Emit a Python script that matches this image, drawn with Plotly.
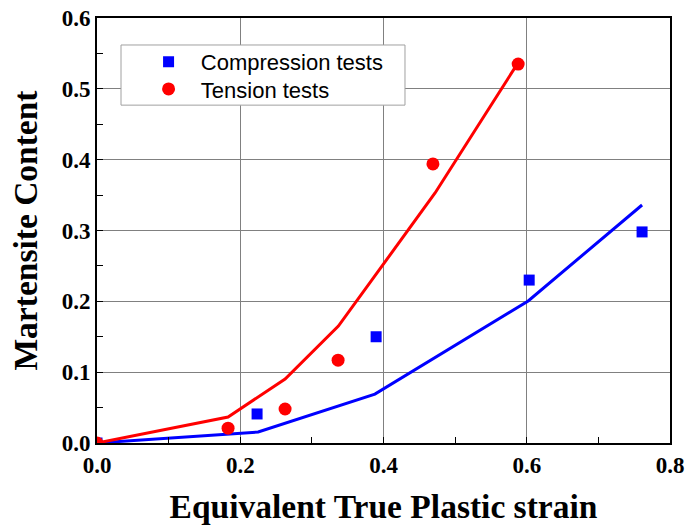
import plotly.graph_objects as go

# Experimental data
comp_x = [0.0, 0.2235, 0.3897, 0.6034, 0.761]
comp_y = [0.0, 0.041, 0.150, 0.230, 0.298]
tens_x = [0.0, 0.183, 0.2626, 0.3366, 0.469, 0.588]
tens_y = [0.0, 0.021, 0.048, 0.117, 0.394, 0.535]

# Model curves
comp_line_x = [0.0, 0.225, 0.388, 0.602, 0.761]
comp_line_y = [0.0, 0.0155, 0.069, 0.2006, 0.336]
tens_line_x = [0.0, 0.183, 0.2626, 0.337, 0.472, 0.588]
tens_line_y = [0.0, 0.0367, 0.0904, 0.165, 0.353, 0.537]

x_ticks = [0, 0.2, 0.4, 0.6, 0.8]
x_labels = ["0.0", "0.2", "0.4", "0.6", "0.8"]
y_ticks = [0, 0.1, 0.2, 0.3, 0.4, 0.5, 0.6]
y_labels = ["0.0", "0.1", "0.2", "0.3", "0.4", "0.5", "0.6"]

fig = go.Figure()
fig.add_trace(go.Scatter(x=comp_line_x, y=comp_line_y, mode="lines",
                         line=dict(color="#0000ff", width=3), showlegend=False))
fig.add_trace(go.Scatter(x=tens_line_x, y=tens_line_y, mode="lines",
                         line=dict(color="#ff0000", width=3), showlegend=False))
fig.add_trace(go.Scatter(x=comp_x, y=comp_y, mode="markers",
                         name="\u00a0\u00a0Compression tests", legend="legend",
                         marker=dict(symbol="square", size=11, color="#0000ff")))
fig.add_trace(go.Scatter(x=tens_x, y=tens_y, mode="markers",
                         name="\u00a0\u00a0Tension tests", legend="legend2",
                         marker=dict(symbol="circle", size=13, color="#ff0000")))

tickfont = dict(family="Liberation Serif", size=23, color="black", weight="bold")
axis_common = dict(
    showline=True, linecolor="black", linewidth=2, mirror=True,
    showgrid=True, gridcolor="#808080", gridwidth=1,
    ticks="inside", ticklen=6, tickcolor="black", tickwidth=1,
    tickfont=tickfont, zeroline=False, automargin=False,
)

fig.update_xaxes(range=[0, 0.8], tickvals=x_ticks, ticktext=x_labels,
                 minor=dict(tickvals=[0.1, 0.3, 0.5, 0.7], ticks="inside", ticklen=6,
                            tickcolor="black", showgrid=False),
                 title=dict(text="Equivalent True Plastic strain",
                            font=dict(family="Liberation Serif", size=33.5, color="black",
                                      weight="bold"),
                            standoff=18),
                 **axis_common)
fig.update_yaxes(range=[0, 0.6], tickvals=y_ticks, ticktext=y_labels,
                 minor=dict(tickvals=[0.05, 0.15, 0.25, 0.35, 0.45, 0.55], ticks="inside",
                            ticklen=6, tickcolor="black", showgrid=False),
                 title=dict(text="Martensite Content",
                            font=dict(family="Liberation Serif", size=33.5, color="black",
                                      weight="bold"),
                            standoff=14),
                 **axis_common)

# opaque legend frame
fig.add_shape(type="rect", xref="paper", yref="paper",
              x0=0.0419, x1=0.5375, y0=0.795, y1=0.9365,
              fillcolor="white", line=dict(color="#a0a0a0", width=1), layer="above")

legend_font = dict(family="Liberation Sans", size=22, color="black")
legend_common = dict(xanchor="left", yanchor="top", bgcolor="rgba(0,0,0,0)",
                     borderwidth=0, font=legend_font, itemwidth=30, tracegroupgap=0)

fig.update_layout(
    width=686, height=526,
    margin=dict(l=97, r=16, t=18, b=83),
    plot_bgcolor="white", paper_bgcolor="white",
    font=dict(family="Liberation Serif", color="black"),
    legend=dict(x=0.09, y=0.946, **legend_common),
    legend2=dict(x=0.09, y=0.882, **legend_common),
)

fig.write_html("out.html")
